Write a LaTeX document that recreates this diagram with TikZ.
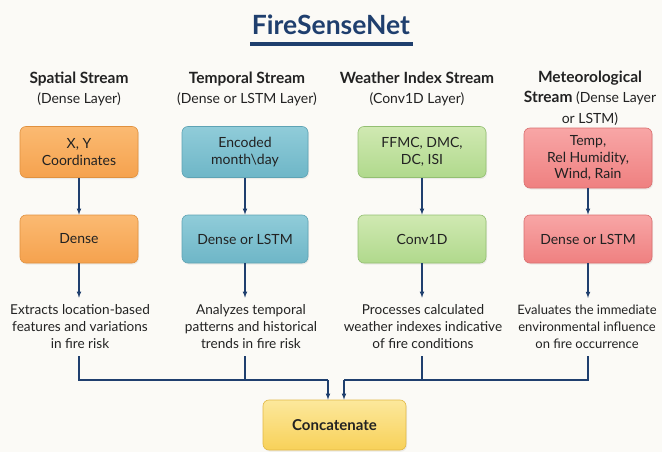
\documentclass[tikz,border=0pt]{standalone}
\usepackage{fontspec}
\setmainfont{Lato}
\usepackage{xcolor}
\usetikzlibrary{positioning, arrows, shadows}

\definecolor{navy}{HTML}{1F3F6E}
\definecolor{paper}{HTML}{FBFAF6}
\definecolor{inktext}{HTML}{222222}
% box colours: top, bottom, border
\definecolor{orgtop}{HTML}{FBBA72}\definecolor{orgbot}{HTML}{F5A24E}\definecolor{orgline}{HTML}{E0913F}
\definecolor{teatop}{HTML}{90CCD9}\definecolor{teabot}{HTML}{6EB6C7}\definecolor{tealine}{HTML}{5EA3B4}
\definecolor{grntop}{HTML}{D0E9B2}\definecolor{grnbot}{HTML}{B0D98C}\definecolor{grnline}{HTML}{93BF72}
\definecolor{redtop}{HTML}{F8A6A6}\definecolor{redbot}{HTML}{EF8080}\definecolor{redline}{HTML}{D96E6E}
\definecolor{yeltop}{HTML}{FCE89C}\definecolor{yelbot}{HTML}{F8D159}\definecolor{yelline}{HTML}{E2B845}

\tikzset{
  box/.style={draw=#1line, top color=#1top, bottom color=#1bot, line width=0.6pt,
    rounded corners=6pt, align=center, text=inktext,
    font=\fontsize{14}{16.5}\selectfont,
    drop shadow={opacity=0.12, shadow xshift=1pt, shadow yshift=-1.5pt}},
  hdr/.style={align=center, text=inktext, font=\fontsize{14}{20.5}\selectfont},
  desc/.style={align=center, text=inktext, inner sep=7pt, font=\fontsize{13.6}{17}\selectfont},
  link/.style={draw=navy, line width=1.1pt, -latex},
  wire/.style={draw=navy, line width=1.1pt}
}

\begin{document}
\begin{tikzpicture}[x=1pt,y=-1pt]
  \useasboundingbox (0,0) rectangle (662,452);
  \fill[paper] (0,0) rectangle (662,452);

  % Title
  \node[text=navy, font=\fontsize{26.5}{30}\selectfont\bfseries] (title) at (331,25) {FireSenseNet};
  \draw[navy, line width=3.5pt] (250,44) -- (413,44);

  % Stream headers
  \node[hdr] (h1) at (79,89) {{\bfseries\fontsize{15.5}{20.5}\selectfont Spatial Stream}\\(Dense Layer)};
  \node[hdr] (h2) at (247,89) {{\bfseries\fontsize{15.5}{20.5}\selectfont Temporal Stream}\\(Dense or LSTM Layer)};
  \node[hdr] (h3) at (417,89) {{\bfseries\fontsize{15.5}{20.5}\selectfont Weather Index Stream}\\(Conv1D Layer)};
  \node[hdr] (h4) at (590,98) {{\bfseries\fontsize{15.5}{20.5}\selectfont Meteorological}\\{\bfseries\fontsize{15.5}{20.5}\selectfont Stream} (Dense Layer\\or LSTM)};

  % Input boxes
  \node[box=org, minimum width=118pt, minimum height=51pt] (in1) at (79,152) {X, Y\\Coordinates};
  \node[box=tea, minimum width=126pt, minimum height=51pt] (in2) at (245,152) {Encoded\\month\textbackslash day};
  \node[box=grn, minimum width=128pt, minimum height=51pt] (in3) at (422,152) {FFMC, DMC,\\DC, ISI};
  \node[box=red, minimum width=128pt, minimum height=60pt] (in4) at (588,158) {Temp,\\Rel Humidity,\\Wind, Rain};

  % Layer boxes
  \node[box=org, minimum width=118pt, minimum height=48pt] (l1) at (79,239) {Dense};
  \node[box=tea, minimum width=126pt, minimum height=48pt] (l2) at (245,239) {Dense or LSTM};
  \node[box=grn, minimum width=128pt, minimum height=48pt] (l3) at (422,239) {Conv1D};
  \node[box=red, minimum width=128pt, minimum height=48pt] (l4) at (588,239) {Dense or LSTM};

  % Descriptions
  \node[desc] (d1) at (80,327) {Extracts location-based\\features and variations\\in fire risk};
  \node[desc] (d2) at (251,327) {Analyzes temporal\\patterns and historical\\trends in fire risk};
  \node[desc] (d3) at (423,327) {Processes calculated\\weather indexes indicative\\of fire conditions};
  \node[desc, inner xsep=2pt, font=\fontsize{13}{17}\selectfont] (d4) at (587,327) {Evaluates the immediate\\environmental influence\\on fire occurrence};

  % Concatenate
  \node[box=yel, minimum width=143pt, minimum height=50pt, font=\fontsize{15}{17}\selectfont\bfseries] (cat) at (334.5,425) {Concatenate};

  % Arrows
  \foreach \i in {1,...,4}
  {
    \draw[link] (in\i) -- (l\i);
    \draw[link] (l\i) -- (l\i |- d\i.north);
  }
  \coordinate (jl) at (328,380);
  \coordinate (jr) at (344,380);
  \draw[wire] (d1.south -| l1) |- (jl);
  \draw[wire] (d2.south -| l2) -- (l2 |- jl);
  \draw[link] (jl) -- (jl |- cat.north);
  \draw[wire] (d4.south -| l4) |- (jr);
  \draw[wire] (d3.south -| l3) -- (l3 |- jr);
  \draw[link] (jr) -- (jr |- cat.north);
\end{tikzpicture}
\end{document}
